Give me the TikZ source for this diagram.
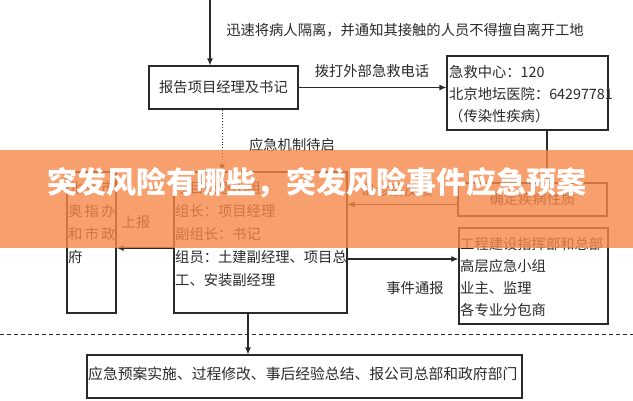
\documentclass[tikz,border=0pt]{standalone}
\usepackage{fontspec}
\usepackage{xcolor}
\usepackage{tikz}
\usetikzlibrary{positioning,arrows.meta}
\newfontfamily\cjk{Noto Sans CJK SC}
\newfontfamily\cjkwide[LetterSpace=15]{Noto Sans CJK SC}
\definecolor{planInk}{HTML}{2A2A2A}
\definecolor{planOrange}{HTML}{F7874A}
\newcommand{\plantext}{\cjk\fontsize{14.3}{22}\selectfont}
\newcommand{\planrows}{\cjk\fontsize{14.3}{23}\selectfont}
\tikzset{
  planbox/.style={draw=planInk,line width=1.2pt,inner sep=0pt},
  planline/.style={draw=planInk,line width=1.2pt},
  planarrow/.style={planline,-{Latex[length=7pt,width=6pt]}},
  plantxt/.style={inner sep=0pt,align=left,text=planInk,font=\plantext},
}

\begin{document}
\begin{tikzpicture}[x=1pt,y=-1pt]
  \useasboundingbox[fill=white] (0,0) rectangle (633,400);
  \coordinate (start) at (210,0);
  \node[planbox,minimum width=149pt,minimum height=43pt,font=\plantext,text=planInk] (report) at (223.5,87.5) {报告项目经理及书记};
  \node[planbox,minimum width=161pt,minimum height=74pt] (hosp) at (527.5,93) {};
  \node[plantxt,anchor=west] (hosptxt) at (449,94) {急救中心：120\\北京地坛医院：64297781\\（传染性疾病）};
  \node[planbox,minimum width=149pt,minimum height=33pt,font=\plantext,text=planInk] (nature) at (532.5,199.5) {确定疾病性质};
  \node[planbox,minimum width=173pt,minimum height=141pt] (team) at (260.5,242.5) {};
  \node[plantxt,font=\planrows,anchor=west] (teamtxt) at (175,234) {项目应急小组\\组长：项目经理\\副组长：书记\\组员：土建副经理、项目总\\工、安装副经理};
  \node[planbox,minimum width=49pt,minimum height=141pt] (gov) at (91.5,242.5) {};
  \node[plantxt,font=\cjkwide\fontsize{14.3}{23}\selectfont,anchor=west] (govtxt) at (68,222.5) {北京市\\奥指办\\和市政\\府};
  \node[planbox,minimum width=149pt,minimum height=96pt] (notify) at (533.5,276) {};
  \node[plantxt,anchor=west] (notifytxt) at (460,277) {工程建设指挥部和总部\\高层应急小组\\业主、监理\\各专业分包商};
  \node[planbox,minimum width=435pt,minimum height=43pt] (final) at (304.5,376.5) {};
  \node[plantxt,font=\cjk\fontsize{14.8}{22}\selectfont,anchor=west] (finaltxt) at (88,374) {应急预案实施、过程修改、事后经验总结、报公司总部和政府部门};

  \node[plantxt] (isolate) at (405,30) {迅速将病人隔离，并通知其接触的人员不得擅自离开工地};
  \node[plantxt] (dial) at (372,71) {拨打外部急救电话};
  \node[plantxt] (standby) at (292,145) {应急机制待启};
  \node[plantxt] (feedback) at (397,190) {确诊后反馈};
  \node[plantxt] (upward) at (136,222) {上报};
  \node[plantxt] (notice) at (415,288) {事件通报};

  \draw[planarrow] (start) -- (start |- report.north);
  \draw[planarrow] (report.east) -- (report.east -| hosp.west);
  \draw[planline] ([xshift=19.5pt]hosp.south) -- ([xshift=19.5pt]hosp.south |- nature.north);
  \draw[planarrow] ([yshift=-5pt]nature.west) -- ([yshift=-5pt]nature.west -| team.east);
  \draw[planarrow] ([yshift=-16.5pt]team.east) -- ([yshift=-16.5pt]team.east -| notify.west);
  \draw[planarrow] ([yshift=-5.5pt]team.west) -- ([yshift=-5.5pt]team.west -| gov.east);
  \draw[planarrow,line width=0.9pt,dotted] ([xshift=-1.5pt]report.south) -- ([xshift=-1.5pt]report.south |- team.north);
  \coordinate (dashL) at (0,334);
  \coordinate (dashR) at (633,334);
  \draw[planline,line width=0.9pt,dash pattern=on 4pt off 3pt] (dashL) -- (dashR);
  \draw[planarrow] ([xshift=-12.5pt]team.south) -- ([xshift=-12.5pt]team.south |- final.north);

  \fill[planOrange,fill opacity=0.8] (0,150) rectangle (633,248);
  \node[inner sep=0pt,text=white,font=\cjk\bfseries\fontsize{30}{32}\selectfont] (banner) at (317,183) {突发风险有哪些，突发风险事件应急预案};
\end{tikzpicture}
\end{document}
